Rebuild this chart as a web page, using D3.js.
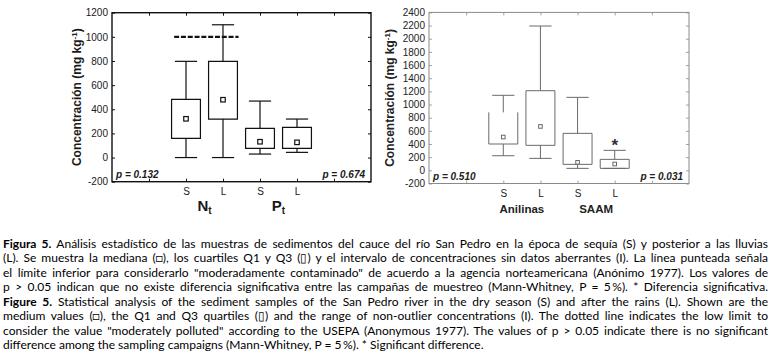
<!DOCTYPE html>
<html>
<head>
<meta charset="utf-8">
<script src="https://cdn.jsdelivr.net/npm/d3@7"></script>
<style>
  body { margin: 0; background: #fff; }
  svg { display: block; }
</style>
</head>
<body>
<svg id="fig" width="771" height="359"></svg>
<script>
// Box plots of sediment concentrations (S = dry season, L = after rains)

// categories (x positions 2..5 on a 0..7 axis)
const catPos = [2, 3, 4, 5];
const catLabels = ["S", "L", "S", "L"];
const xTicks = [1, 2, 3, 4, 5, 6];

// left panel: Nt / Pt
const leftGroups = ["N", "P"];
const leftYTicks = [-200, 0, 200, 400, 600, 800, 1000, 1200];
const leftLow = [0, 0, 29, 43];
const leftQ1 = [159, 319, 76, 76];
const leftMedian = [321, 479, 131, 126];
const leftQ3 = [482, 797, 242, 250];
const leftHigh = [797, 1100, 468, 319];
const leftLimit = 1000;
const leftP = ["p = 0.132", "p = 0.674"];

// right panel: Anilinas / SAAM
const rightGroups = ["Anilinas", "SAAM"];
const rightYTicks = [-200, 0, 200, 400, 600, 800, 1000, 1200, 1400, 1600, 1800, 2000, 2200, 2400];
const rightLow = [222, 182, 30, 30];
const rightQ1 = [400, 380, 91, 30];
const rightMedian = [506, 667, 122, 96];
const rightQ3 = [881, 1210, 562, 167];
const rightHigh = [1140, 2193, 1109, 304];
const rightSignificant = [false, false, false, true];
const rightP = ["p = 0.510", "p = 0.031"];

const captionLines = [
    "Figura 5. Análisis estadístico de las muestras de sedimentos del cauce del río San Pedro en la época de sequía (S) y posterior a las lluvias",
    "(L). Se muestra la mediana (\u25A1), los cuartiles Q1 y Q3 (\u25AF) y el intervalo de concentraciones sin datos aberrantes (I). La línea punteada señala",
    "el límite inferior para considerarlo \"moderadamente contaminado\" de acuerdo a la agencia norteamericana (Anónimo 1977). Los valores de",
    "p > 0.05 indican que no existe diferencia significativa entre las campañas de muestreo (Mann-Whitney, P = 5\u2009%). * Diferencia significativa.",
    "Figure 5. Statistical analysis of the sediment samples of the San Pedro river in the dry season (S) and after the rains (L). Shown are the",
    "medium values (\u25A1), the Q1 and Q3 quartiles (\u25AF) and the range of non-outlier concentrations (I). The dotted line indicates the low limit to",
    "consider the value \"moderately polluted\" according to the USEPA (Anonymous 1977). The values of p > 0.05 indicate there is no significant",
    "difference among the sampling campaigns (Mann-Whitney, P = 5\u2009%). * Significant difference."
];

const svg = d3.select("#fig");
const axisFont = "'Liberation Sans', Arial, sans-serif";

function drawPanel(o) {
    const x = d3.scaleLinear().domain([0, 7]).range([o.left, o.right]);
    const y = d3.scaleLinear().domain(o.yDomain).range([o.bottom, o.top]);
    const g = svg.append("g");

    const styleAxis = s => {
        s.select(".domain").remove();
        s.selectAll(".tick line").attr("stroke", o.frameColor).attr("stroke-width", o.tickW);
        s.selectAll(".tick text")
            .attr("fill", o.textColor)
            .style("font-family", axisFont)
            .style("font-size", "10px");
    };

    // axes, all ticks pointing inwards
    g.append("g").attr("transform", `translate(${o.left},0)`)
        .call(d3.axisLeft(y).tickValues(o.yTicks).tickFormat(d => String(d))
            .tickSizeInner(-3).tickSizeOuter(0).tickPadding(4))
        .call(styleAxis);
    g.append("g").attr("transform", `translate(${o.right},0)`)
        .call(d3.axisRight(y).tickValues(o.yTicks).tickSizeInner(-3).tickSizeOuter(0).tickFormat(""))
        .call(styleAxis);
    g.append("g").attr("transform", `translate(0,${o.top})`)
        .call(d3.axisTop(x).tickValues(xTicks).tickSizeInner(-3).tickSizeOuter(0).tickFormat(""))
        .call(styleAxis);
    g.append("g").attr("transform", `translate(0,${o.bottom})`)
        .call(d3.axisBottom(x).tickValues(xTicks).tickSizeInner(-3).tickSizeOuter(0).tickPadding(6)
            .tickFormat(d => catLabels[catPos.indexOf(d)] || ""))
        .call(styleAxis);

    // frame
    g.append("rect")
        .attr("x", o.left).attr("y", o.top)
        .attr("width", o.right - o.left).attr("height", o.bottom - o.top)
        .attr("fill", "none").attr("stroke", o.frameColor).attr("stroke-width", o.frameW);

    // y label
    const yl = g.append("text")
        .attr("transform", `translate(${o.yLabelX},${(o.top + o.bottom) / 2}) rotate(-90)`)
        .attr("text-anchor", "middle")
        .attr("fill", o.textColor)
        .style("font-family", axisFont).style("font-size", "12px").style("font-weight", "bold");
    yl.append("tspan").text("Concentración  (mg kg");
    yl.append("tspan").attr("dy", -4).style("font-size", "8px").text("-1");
    yl.append("tspan").attr("dy", 4).text(")");

    // boxes
    const hw = 0.39, cw = 0.3;
    const boxes = g.append("g").attr("fill", "none").attr("stroke", o.boxColor).attr("stroke-width", o.boxW);
    catPos.forEach((p, i) => {
        const cx = x(p);
        // whiskers
        boxes.append("line").attr("x1", cx).attr("x2", cx).attr("y1", y(o.high[i])).attr("y2", y(o.q3[i]));
        boxes.append("line").attr("x1", cx).attr("x2", cx).attr("y1", y(o.q1[i])).attr("y2", y(o.low[i]));
        boxes.append("line").attr("x1", x(p - cw)).attr("x2", x(p + cw)).attr("y1", y(o.high[i])).attr("y2", y(o.high[i]));
        boxes.append("line").attr("x1", x(p - cw)).attr("x2", x(p + cw)).attr("y1", y(o.low[i])).attr("y2", y(o.low[i]));
        // box (first box of right panel is drawn without its top edge in the original)
        const x0 = x(p - hw), x1 = x(p + hw), yt = y(o.q3[i]), yb = y(o.q1[i]);
        const d = (o.openTopFirst && i === 0)
            ? `M${x0},${yt}V${yb}H${x1}V${yt}`
            : `M${x0},${yt}V${yb}H${x1}V${yt}Z`;
        boxes.append("path").attr("d", d);
        // median marker
        boxes.append("rect")
            .attr("x", cx - o.med / 2).attr("y", y(o.median[i]) - o.med / 2)
            .attr("width", o.med).attr("height", o.med)
            .attr("fill", "#fff").attr("stroke-width", o.boxW);
    });

    // group labels
    o.groups.forEach((name, k) => {
        const t = g.append("text")
            .attr("x", x(2.5 + 2 * k)).attr("y", o.groupY)
            .attr("text-anchor", "middle")
            .attr("fill", o.textColor)
            .style("font-family", axisFont).style("font-weight", "bold").style("font-size", o.groupSize);
        t.append("tspan").text(name);
        if (o.groupSub) t.append("tspan").attr("dy", 3).style("font-size", "10px").text(o.groupSub);
    });

    // p values
    const pStyle = s => s.attr("fill", o.textColor)
        .style("font-family", axisFont).style("font-size", "10px")
        .style("font-weight", "bold").style("font-style", "italic");
    g.append("text").attr("x", o.left + 4).attr("y", o.bottom - 3.5).text(o.p[0]).call(pStyle);
    g.append("text").attr("x", o.right - 6).attr("y", o.bottom - 3.5).attr("text-anchor", "end").text(o.p[1]).call(pStyle);

    return { x, y, g };
}

// left panel
const L = drawPanel({
    left: 112, right: 371, top: 12.7, bottom: 181.7,
    yDomain: [-200, 1200], yTicks: leftYTicks,
    low: leftLow, q1: leftQ1, median: leftMedian, q3: leftQ3, high: leftHigh,
    frameColor: "#111", frameW: 1.4, tickW: 1, boxColor: "#111", boxW: 1.2, med: 4.5,
    textColor: "#1a1a1a", yLabelX: 81, groups: leftGroups, groupSub: "t",
    groupY: 211, groupSize: "15px", p: leftP
});

// reference limit (dashed)
L.g.append("line")
    .attr("x1", L.x(1.68)).attr("x2", L.x(3.42))
    .attr("y1", L.y(leftLimit)).attr("y2", L.y(leftLimit))
    .attr("stroke", "#111").attr("stroke-width", 2.2).attr("stroke-dasharray", "5,1.8");

// right panel
const R = drawPanel({
    left: 429, right: 689, top: 12.4, bottom: 183.5,
    yDomain: [-200, 2400], yTicks: rightYTicks,
    low: rightLow, q1: rightQ1, median: rightMedian, q3: rightQ3, high: rightHigh,
    frameColor: "#8a8a8a", frameW: 1, tickW: 0.8, boxColor: "#6a6a6a", boxW: 1, med: 3.6,
    textColor: "#222", yLabelX: 394, groups: rightGroups, groupSub: null,
    groupY: 213, groupSize: "11.5px", p: rightP, openTopFirst: true
});

// significance mark
catPos.forEach((p, i) => {
    if (!rightSignificant[i]) return;
    R.g.append("text")
        .attr("x", R.x(p)).attr("y", R.y(rightHigh[i]) + 1)
        .attr("text-anchor", "middle")
        .attr("fill", "#333")
        .style("font-family", axisFont).style("font-weight", "bold").style("font-size", "17px")
        .text("*");
});

// ─────────────────────────────────────────────
// Caption, justified line by line
// ─────────────────────────────────────────────
const capX = 3, capW = 765, capY0 = 248, capStep = 14.45;
const cap = svg.append("g")
    .style("font-family", "Lato, 'Open Sans', sans-serif")
    .attr("fill", "#000");

// pick the font size from the natural width of the short last line
const probe = cap.append("text").style("font-size", "12px").text(captionLines[7]);
const capSize = 12 * 481 / probe.node().getComputedTextLength();
probe.remove();

captionLines.forEach((line, i) => {
    const t = cap.append("text")
        .attr("x", capX).attr("y", capY0 + i * capStep)
        .style("font-size", capSize + "px");
    const m = line.match(/^(Figura 5\.|Figure 5\.)(.*)$/);
    if (m) {
        t.append("tspan").style("font-weight", "bold").text(m[1]);
        t.append("tspan").text(m[2]);
    } else {
        t.append("tspan").text(line);
    }
    if (i < captionLines.length - 1) {
        const len = t.node().getComputedTextLength();
        const spaces = (line.match(/ /g) || []).length;
        t.attr("word-spacing", (capW - len) / spaces);
    }
});
</script>
</body>
</html>
